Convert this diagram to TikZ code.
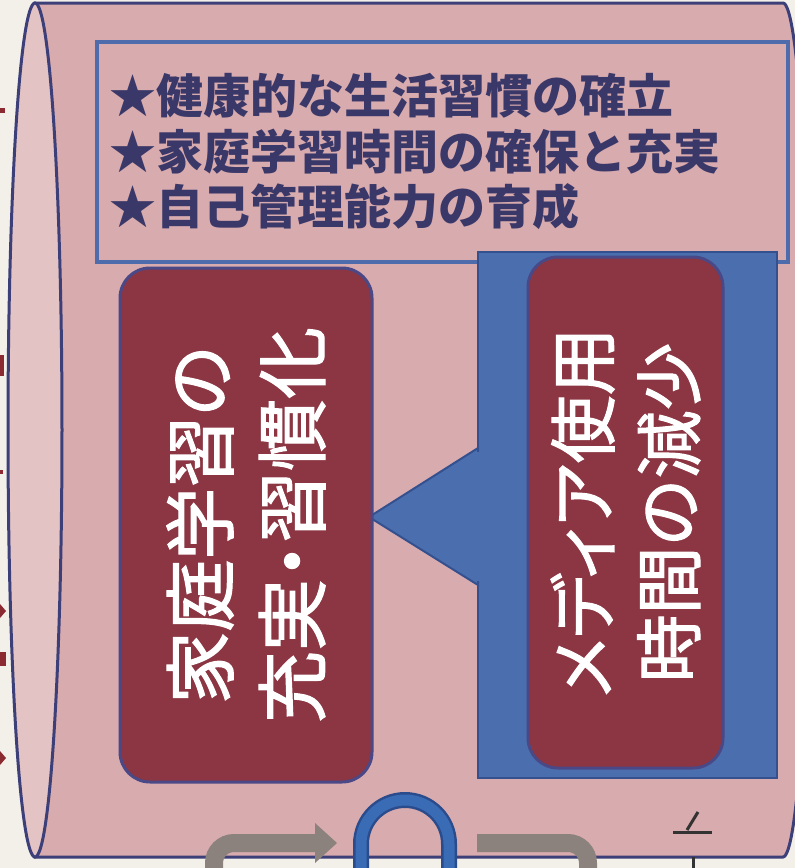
\documentclass[tikz,border=0pt]{standalone}
\usepackage{fontspec}
\newfontfamily\jp{Noto Sans CJK JP}
\newfontfamily\jpb{Noto Sans CJK JP}[RawFeature=+palt, FakeBold=1.6]
\newfontfamily\jpc{Noto Sans CJK JP}[FakeBold=1.6]
\definecolor{outerbg}{HTML}{F3F0EA}
\definecolor{cylpink}{HTML}{D8ABAE}
\definecolor{cyllight}{HTML}{E3C3C3}
\definecolor{navyline}{HTML}{3D3F78}
\definecolor{headborder}{HTML}{4E6CAB}
\definecolor{headtext}{HTML}{3A3868}
\definecolor{boxred}{HTML}{8B3642}
\definecolor{redborder}{HTML}{4A4886}
\definecolor{boxblue}{HTML}{4B6FAE}
\definecolor{blueborder}{HTML}{34508F}
\definecolor{arrowgray}{HTML}{8B827E}
\definecolor{archblue}{HTML}{3A6BB5}
\definecolor{archdark}{HTML}{2B4C8C}
\definecolor{markred}{HTML}{8B2A30}
\tikzset{
  headline/.style={anchor=west, inner sep=0pt, text=headtext, font=\jp\bfseries\fontsize{47}{50}\selectfont},
  redbox/.style={draw=redborder, line width=3pt, fill=boxred, rounded corners=30pt, rotate=90, text=white, align=center, inner sep=0pt},
  grayarrow/.style={draw=arrowgray, line width=18pt, rounded corners=20pt},
}
\begin{document}
\begin{tikzpicture}[x=1pt, y=-1pt]
\useasboundingbox (0,0) rectangle (795,868);
\clip (0,0) rectangle (795,868);
\fill[outerbg] (0,0) rectangle (795,868);
% cylinder body
\path[fill=cylpink, draw=navyline, line width=3pt]
  (35,3) -- (783,3) arc[start angle=-90, end angle=90, x radius=27, y radius=427] -- (35,857) -- cycle;
\path[fill=cyllight, draw=navyline, line width=3pt] (35,430) ellipse [x radius=27, y radius=427];
% left edge marks
\fill[markred] (0,108) rectangle (5,113);
\fill[markred] (0,355) rectangle (4,376);
\fill[markred] (0,470) rectangle (3,474);
\fill[markred] (0,604) -- (6,611) -- (0,618) -- cycle;
\fill[markred] (0,652) rectangle (6,666);
\fill[markred] (0,751) -- (6,758) -- (0,765) -- cycle;
% header box
\node[draw=headborder, line width=4pt, fill=cylpink, minimum width=691pt, minimum height=220pt, inner sep=0pt] (head) at (442.5,152) {};
% blue rectangle
\node[draw=blueborder, line width=2pt, fill=boxblue, minimum width=299pt, minimum height=526pt, inner sep=0pt] (blue) at (627.5,515) {};
% pointer triangle
\coordinate (tip) at (369,517);
\path[fill=boxblue, draw=blueborder, line width=2pt] (tip) -- (478,448) -- (478,585) -- cycle;
\fill[boxblue] (476,452) rectangle (481,581);
% red boxes
\node[redbox, minimum width=514pt, minimum height=252pt, font=\jpb\fontsize{72}{92}\selectfont] (lbox) at (246,525) {家庭学習の\\充実・習慣化};
\node[redbox, minimum width=511pt, minimum height=195pt, font=\jpc\fontsize{68}{86}\selectfont] (rbox) at (625.5,512.5) {{\jpb メディア使用}\\時間の減少};
% header text
\node[headline] (h1) at (109,96) {★健康的な生活習慣の確立};
\node[headline] (h2) at (109,152) {★家庭学習時間の確保と充実};
\node[headline] (h3) at (109,207) {★自己管理能力の育成};
% bottom elements
\draw[grayarrow] (214,880) -- (214,843) -- (318,843);
\coordinate (ltip) at (337,843);
\fill[arrowgray] (ltip) -- (315,823) -- (315,863) -- cycle;
\draw[archdark, line width=16pt] (361,880) -- (361,844) arc[start angle=180, end angle=360, radius=44] -- (449,880);
\draw[archblue, line width=11pt] (361,880) -- (361,844) arc[start angle=180, end angle=360, radius=44] -- (449,880);
\draw[grayarrow] (477,843) -- (588,843) -- (588,880);
\coordinate (m1) at (673,832);
\coordinate (m2) at (712,832);
\draw[black!80, line width=3pt] (m1) -- (m2);
\draw[black!80, line width=3pt] (687,830) -- (698,812);
\draw[black!80, line width=3pt] (693,857) -- (693,868);
\end{tikzpicture}
\end{document}
